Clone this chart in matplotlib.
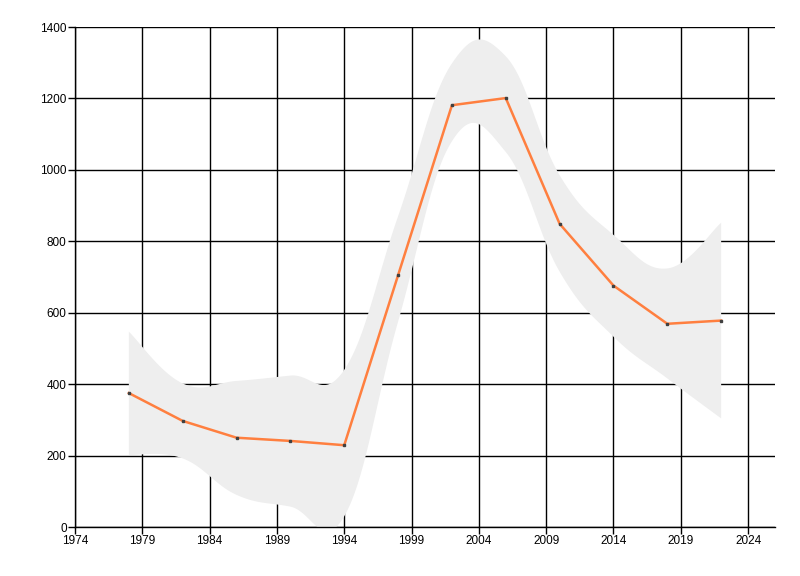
import numpy as np
import matplotlib
matplotlib.use("Agg")
import matplotlib.pyplot as plt

years  = [1978, 1982, 1986, 1990, 1994, 1998, 2002, 2006, 2010, 2014, 2018, 2022]
values = [375, 297, 250, 241, 229, 705, 1181, 1201, 849, 676, 569, 578]
upper  = [547, 402, 409, 424, 440, 870, 1298, 1318, 985, 818, 724, 852]
lower  = [202, 192, 90, 57, 30, 575, 1080, 1050, 715, 533, 416, 304]

x_ticks = list(range(1974, 2025, 5))
y_ticks = list(range(0, 1401, 200))

TENSION = 0.6


def cardinal_spline(xs, ys, tension=TENSION, n=40):
    # cardinal spline like the one the chart control draws for a SplineRange
    pts = np.column_stack([xs, ys]).astype(float)
    out = []
    k = tension / 3.0
    for i in range(len(pts) - 1):
        p0 = pts[i - 1] if i > 0 else pts[i]
        p1, p2 = pts[i], pts[i + 1]
        p3 = pts[i + 2] if i + 2 < len(pts) else pts[i + 1]
        c1 = p1 + k * (p2 - p0)
        c2 = p2 - k * (p3 - p1)
        t = np.linspace(0, 1, n)[:, None]
        seg = ((1 - t) ** 3) * p1 + 3 * ((1 - t) ** 2) * t * c1 \
            + 3 * (1 - t) * t ** 2 * c2 + t ** 3 * p2
        out.append(seg if i == 0 else seg[1:])
    seg = np.vstack(out)
    return seg[:, 0], seg[:, 1]


fig = plt.figure(figsize=(8, 5.76), dpi=100)
ax = fig.add_axes([75 / 800, 49 / 576, 700 / 800, 500 / 576])

ux, uy = cardinal_spline(years, upper)
lx, ly = cardinal_spline(years, lower)
ax.fill(np.concatenate([ux, lx[::-1]]), np.concatenate([uy, ly[::-1]]),
        color="#eeeeee", lw=0, zorder=1)

ax.plot(years, values, color="#ff7f3f", lw=1.8, zorder=3)
ax.plot(years, values, ls="none", marker="s", ms=2, color="#404040", zorder=4)

ax.set_xlim(1974, 2026)
ax.set_ylim(0, 1400)
ax.set_xticks(x_ticks)
ax.set_yticks(y_ticks)
ax.set_axisbelow(True)
ax.grid(True, color="black", lw=1)

for s in ["top", "right"]:
    ax.spines[s].set_visible(False)
for s in ["left", "bottom"]:
    ax.spines[s].set_color("black")
    ax.spines[s].set_linewidth(1)

ax.tick_params(length=5, width=1, color="black", labelsize=8.5, pad=1)
for lab in ax.get_xticklabels() + ax.get_yticklabels():
    lab.set_family(["Liberation Sans Narrow", "Liberation Sans", "DejaVu Sans"])

fig.savefig("out.png", dpi=100)
